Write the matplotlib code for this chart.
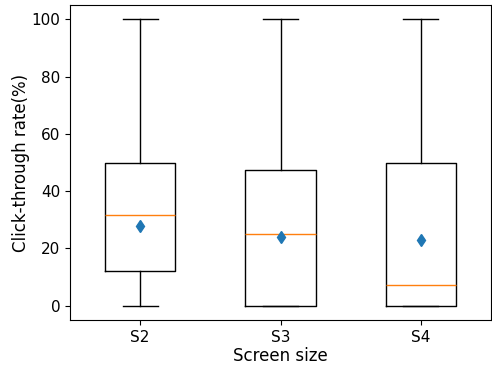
import matplotlib
matplotlib.use("Agg")
import matplotlib.pyplot as plt

categories = ["S2", "S3", "S4"]
whisker_low = [0, 0, 0]
q1 = [12.2, 0, 0]
medians = [31.6, 25.0, 7.1]
q3 = [50.0, 47.4, 50.0]
whisker_high = [100, 100, 100]
means = [27.9, 24.0, 23.0]

stats = []
for i, c in enumerate(categories):
    stats.append(dict(label=c, whislo=whisker_low[i], q1=q1[i], med=medians[i],
                      q3=q3[i], whishi=whisker_high[i], mean=means[i], fliers=[]))

fig = plt.figure(figsize=(4.92, 3.66), dpi=100)
ax = fig.add_axes([70/492, 46/366, 421/492, 315/366])
ax.bxp(stats, showmeans=True, widths=0.5,
       meanprops=dict(marker='d', markerfacecolor='#1f77b4', markeredgecolor='#1f77b4', markersize=6))
ax.set_ylim(-5, 105)
ax.set_xlabel("Screen size", fontsize=12, labelpad=1.5)
ax.set_ylabel("Click-through rate(%)", fontsize=12, labelpad=1)
ax.tick_params(labelsize=11)
fig.savefig("out.png", dpi=100)
